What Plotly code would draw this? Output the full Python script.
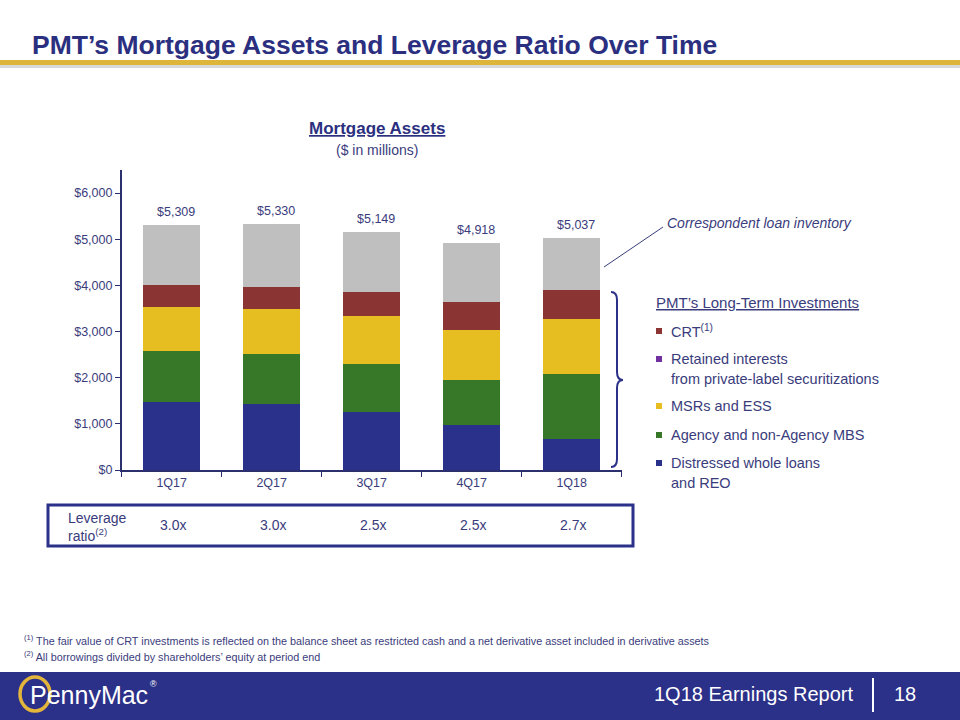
import plotly.graph_objects as go

# ---------------- data ----------------
quarters = ["1Q17", "2Q17", "3Q17", "4Q17", "1Q18"]
distressed = [1484, 1440, 1246, 965, 663]
agency_mbs = [1086, 1065, 1043, 993, 1426]
retained = [0, 0, 0, 0, 0]
msr_ess = [970, 991, 1037, 1081, 1187]
crt = [477, 479, 540, 604, 619]
correspondent = [1292, 1355, 1283, 1275, 1142]
totals = [5309, 5330, 5149, 4918, 5037]
total_labels = ["$5,309", "$5,330", "$5,149", "$4,918", "$5,037"]
leverage = ["3.0x", "3.0x", "2.5x", "2.5x", "2.7x"]
y_tick_vals = [0, 1000, 2000, 3000, 4000, 5000, 6000]
y_tick_text = ["$0", "$1,000", "$2,000", "$3,000", "$4,000", "$5,000", "$6,000"]

# ---------------- style ----------------
W, H = 960, 720
FIG_H = 727
NAVY = "#2B3088"
TXT = "#3A3C7C"
FONT = "Liberation Sans, Arial, sans-serif"
NARROW = "Liberation Sans Narrow, Liberation Sans, Arial"
C_BLUE = "#2A318A"
C_GREEN = "#377828"
C_YELLOW = "#E6BE22"
C_RED = "#8B3434"
C_GREY = "#BFBFBF"
C_PURPLE = "#7030A0"


def px(x):
    return x / W


def py(y):
    return 1 - y / H


fig = go.Figure()
series = [
    ("Distressed whole loans and REO", distressed, C_BLUE),
    ("Agency and non-Agency MBS", agency_mbs, C_GREEN),
    ("Retained interests", retained, C_PURPLE),
    ("MSRs and ESS", msr_ess, C_YELLOW),
    ("CRT", crt, C_RED),
    ("Correspondent loan inventory", correspondent, C_GREY),
]
for name, vals, col in series:
    fig.add_trace(go.Bar(x=quarters, y=vals, name=name, marker=dict(color=col, line=dict(width=0)),
                         showlegend=False, hoverinfo="skip"))

annotations = []
# total labels above bars
for q, t, lab in zip(quarters, totals, total_labels):
    annotations.append(dict(x=q, y=t, xref="x", yref="y", text=lab, showarrow=False,
                            yanchor="middle", yshift=13, xshift=4,
                            font=dict(family=FONT, size=12.5, color=TXT)))

# leverage values
for q, lv in zip(quarters, leverage):
    annotations.append(dict(x=q, y=py(525), xref="x", yref="paper", text=lv, showarrow=False,
                            yanchor="middle", xshift=1,
                            font=dict(family=FONT, size=14, color=TXT)))
annotations.append(dict(x=px(66), y=py(527), xref="paper", yref="paper",
                        text="Leverage<br>ratio<sup>(2)</sup>", showarrow=False, align="left",
                        xanchor="left", yanchor="middle",
                        font=dict(family=FONT, size=14, color=TXT)))

# title
annotations.append(dict(x=px(30), y=py(45), xref="paper", yref="paper",
                        text="<b>PMT’s Mortgage Assets and Leverage Ratio Over Time</b>",
                        showarrow=False, xanchor="left", yanchor="middle",
                        font=dict(family=FONT, size=26.5, color="#2B2F80")))
# chart title
annotations.append(dict(x=px(377), y=py(128), xref="paper", yref="paper",
                        text="<b><u>Mortgage Assets</u></b>", showarrow=False,
                        xanchor="center", yanchor="middle",
                        font=dict(family=FONT, size=17, color="#2B2F80")))
annotations.append(dict(x=px(377), y=py(150), xref="paper", yref="paper",
                        text="($ in millions)", showarrow=False,
                        xanchor="center", yanchor="middle",
                        font=dict(family=FONT, size=14, color=TXT)))
# correspondent annotation
annotations.append(dict(x=px(665), y=py(223), xref="paper", yref="paper",
                        text="<i>Correspondent loan inventory</i>", showarrow=False,
                        xanchor="left", yanchor="middle",
                        font=dict(family=FONT, size=14, color=TXT)))
# legend block
annotations.append(dict(x=px(654), y=py(302), xref="paper", yref="paper",
                        text="<u>PMT’s Long-Term Investments</u>", showarrow=False,
                        xanchor="left", yanchor="middle",
                        font=dict(family=FONT, size=15, color=TXT)))
legend_items = [
    ("CRT<sup>(1)</sup>", 331, C_RED, None),
    ("Retained interests", 359, C_PURPLE, "from private-label securitizations"),
    ("MSRs and ESS", 406, C_YELLOW, None),
    ("Agency and non-Agency MBS", 435, C_GREEN, None),
    ("Distressed whole loans", 463, C_BLUE, "and REO"),
]
shapes = []
for txt, yy, col, second in legend_items:
    annotations.append(dict(x=px(669), y=py(yy), xref="paper", yref="paper", text=txt,
                            showarrow=False, xanchor="left", yanchor="middle",
                            font=dict(family=FONT, size=14.5, color=TXT)))
    if second:
        annotations.append(dict(x=px(669), y=py(yy + 20), xref="paper", yref="paper", text=second,
                                showarrow=False, xanchor="left", yanchor="middle",
                                font=dict(family=FONT, size=14.5, color=TXT)))
    shapes.append(dict(type="rect", xref="paper", yref="paper",
                       x0=px(656), x1=px(662), y0=py(yy + 3), y1=py(yy - 3),
                       fillcolor=col, line=dict(width=0)))

# footnotes
annotations.append(dict(x=px(22), y=py(640), xref="paper", yref="paper",
                        text="<sup>(1)</sup> The fair value of CRT investments is reflected on the balance sheet as restricted cash and a net derivative asset included in derivative assets",
                        showarrow=False, xanchor="left", yanchor="middle",
                        font=dict(family=NARROW, size=10.8, color=TXT)))
annotations.append(dict(x=px(22), y=py(656), xref="paper", yref="paper",
                        text="<sup>(2)</sup> All borrowings divided by shareholders’ equity at period end",
                        showarrow=False, xanchor="left", yanchor="middle",
                        font=dict(family=NARROW, size=10.8, color=TXT)))

# footer
shapes.append(dict(type="rect", xref="paper", yref="paper", x0=0, x1=1, y0=-0.02, y1=py(672),
                   fillcolor=NAVY, line=dict(width=0), layer="below"))
annotations.append(dict(x=px(855), y=py(694), xref="paper", yref="paper",
                        text="1Q18 Earnings Report", showarrow=False, xanchor="right", yanchor="middle",
                        font=dict(family=FONT, size=20, color="white")))
annotations.append(dict(x=px(905), y=py(694), xref="paper", yref="paper",
                        text="18", showarrow=False, xanchor="center", yanchor="middle",
                        font=dict(family=FONT, size=20, color="white")))
shapes.append(dict(type="line", xref="paper", yref="paper", x0=px(873), x1=px(873),
                   y0=py(678), y1=py(712), line=dict(color="white", width=2)))
# logo
shapes.append(dict(type="circle", xref="paper", yref="paper", x0=px(20), x1=px(50),
                   y0=py(711), y1=py(677), line=dict(color="#E3B53B", width=3.5)))
annotations.append(dict(x=px(28), y=py(695), xref="paper", yref="paper",
                        text="PennyMac", showarrow=False, xanchor="left", yanchor="middle",
                        font=dict(family=NARROW, size=25, color="white")))
annotations.append(dict(x=px(148), y=py(684), xref="paper", yref="paper",
                        text="®", showarrow=False, xanchor="left", yanchor="middle",
                        font=dict(family=FONT, size=9, color="white")))

# title gold rule
shapes.append(dict(type="rect", xref="paper", yref="paper", x0=0, x1=1, y0=py(65), y1=py(60),
                   fillcolor="#DDB53A", line=dict(width=0)))
shapes.append(dict(type="rect", xref="paper", yref="paper", x0=0, x1=1, y0=py(68), y1=py(65),
                   fillcolor="#D9D9D9", line=dict(width=0)))

# leverage box
shapes.append(dict(type="rect", xref="paper", yref="paper", x0=px(48), x1=px(633),
                   y0=py(546), y1=py(505), line=dict(color=NAVY, width=3)))

# correspondent pointer line
shapes.append(dict(type="line", xref="paper", yref="paper", x0=px(604), y0=py(267),
                   x1=px(663), y1=py(227), line=dict(color=TXT, width=1)))

# brace
bx0, bx1, bx2 = 611, 617, 623
bt, bm, bb = 292, 380, 467
pts = (f"M {px(bx0)},{py(bt)} Q {px(bx1)},{py(bt)} {px(bx1)},{py(bt + 8)} "
       f"L {px(bx1)},{py(bm - 8)} Q {px(bx1)},{py(bm)} {px(bx2)},{py(bm)} "
       f"Q {px(bx1)},{py(bm)} {px(bx1)},{py(bm + 8)} "
       f"L {px(bx1)},{py(bb - 8)} Q {px(bx1)},{py(bb)} {px(bx0)},{py(bb)}")
shapes.append(dict(type="path", xref="paper", yref="paper", path=pts,
                   line=dict(color=NAVY, width=2)))

fig.update_layout(
    width=W, height=FIG_H, autosize=False,
    margin=dict(l=0, r=0, t=0, b=0),
    paper_bgcolor="white", plot_bgcolor="white",
    barmode="stack", bargap=0.43,
    font=dict(family=FONT, color=TXT),
    xaxis=dict(domain=[px(121.7), px(621.7)], showgrid=False, zeroline=False,
               showline=True, linecolor="#2B2F6E", linewidth=1.5,
               ticks="outside", tickson="boundaries", ticklen=5, tickcolor="#2B2F6E",
               tickfont=dict(family=FONT, size=12.5, color=TXT), fixedrange=True),
    yaxis=dict(domain=[py(470), py(170)], range=[0, 6500], showgrid=False, zeroline=False,
               showline=True, linecolor="#2B2F6E", linewidth=1.5,
               ticks="outside", ticklen=5, tickcolor="#2B2F6E",
               tickmode="array", tickvals=y_tick_vals, ticktext=y_tick_text,
               tickfont=dict(family=FONT, size=12.5, color=TXT), fixedrange=True),
    annotations=annotations,
    shapes=shapes,
)

fig.write_html("out.html", config={"displayModeBar": False},
               post_script="document.body.style.margin='0';document.body.style.overflow='hidden';")
